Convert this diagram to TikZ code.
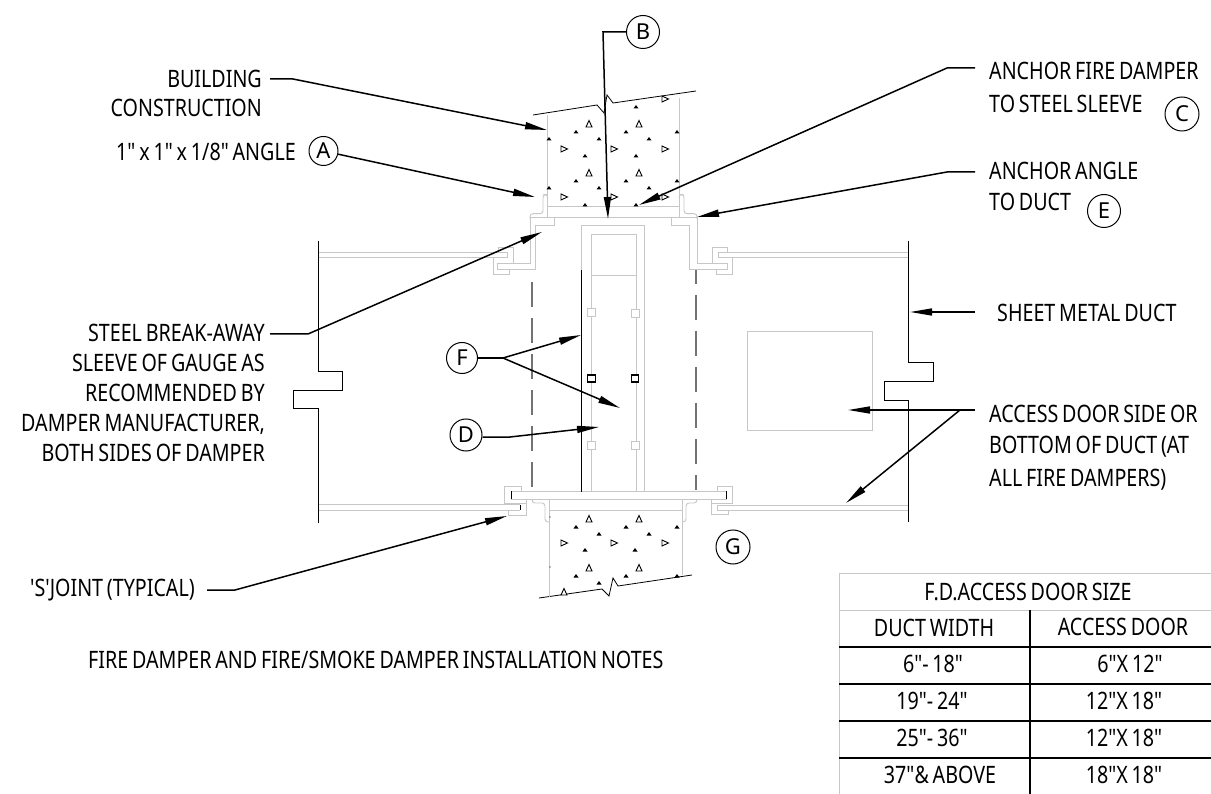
\documentclass[tikz,border=0pt]{standalone}
\usepackage{fontspec}
\newfontfamily\lblfont[FakeStretch=0.82,WordSpace=0.75]{Noto Sans}
\newfontfamily\tagfont{Noto Sans}
\usepackage{tikz}
\usetikzlibrary{arrows.meta}
\definecolor{wallgray}{gray}{0.78}
\tikzset{
  wall/.style={draw=wallgray,line width=0.9pt},
  duct/.style={draw=black,line width=1pt},
  dashline/.style={draw=black!55,line width=1.3pt,dash pattern=on 25pt off 11pt},
  leader/.style={draw=black,line width=1.5pt,-{Triangle[length=22pt,width=7pt]}},
  plainleader/.style={draw=black,line width=1.5pt},
  lbl/.style={font=\lblfont\fontsize{24}{30}\selectfont,inner sep=0pt},
  tag/.style={draw=black,line width=1pt,circle,minimum size=30pt,inner sep=0pt,font=\tagfont\fontsize{22}{24}\selectfont},
  grid/.style={draw=black,line width=1.2pt},
  aggr/.style={draw=black,line width=0.9pt,fill=white},
}
\begin{document}
\begin{tikzpicture}[x=1pt,y=-1pt]
  \useasboundingbox[fill=white] (0,0) rectangle (1211,794);
%
  % wall, top
  \draw [duct,line width=0.8pt] (533,115) -- (597,105) -- (604,113) -- (607,95) -- (613,103) -- (696,91);
  \draw [wall] (547.7,115) -- (547.7,217);
  \draw [wall] (679,98) -- (679,217);
  \draw [wall] (547.7,206) -- (679,206);
  \draw [wall] (530,217) -- (697,217);
%
  % wall, bottom
  \draw [duct,line width=0.8pt] (539,598) -- (602,589) -- (609,596) -- (613,578) -- (618,586) -- (692,575);
  \draw [wall] (549,499) -- (549,597);
  \draw [wall] (682,499) -- (682,575);
  \draw [wall] (549,510) -- (682,510);
  \draw [wall] (511,491) rectangle (726,499);
  \draw [duct,line width=0.8pt] (511,491) -- (511,499);
  \draw [duct,line width=0.8pt] (726,491) -- (726,499);
%
  % aggregate
  \foreach \x/\y in {589/124,639/124,589/173,639/173,589/519,639/519,589/568,639/568,564/592}
    \draw [aggr] (\x-3,\y+3) -- (\x+3,\y+3) -- (\x,\y-3.5) -- cycle;
  \foreach \x/\y in {665/99,564/149,614/149,665/149,564/197,614/197,665/197,564/543,614/543,665/543}
    \draw [aggr] (\x-3,\y-3) -- (\x-3,\y+3) -- (\x+3.5,\y) -- cycle;
  \foreach \x/\y in {576/132,626/132,677/132,549/139,599/139,649/139,636/107,585/156,636/156,576/181,626/181,677/181,549/188,599/188,649/188,585/205,636/205,576/527,626/527,677/527,599/534,649/534,585/550,635/550,576/576,626/576,677/576,599/583}
    \fill (\x-2.5,\y+1.5) -- (\x+2.5,\y+1.5) -- (\x,\y-2) -- cycle;
  \foreach \x/\y in {550/517,550/567}
    \fill (\x,\y) circle (0.7);
%
  % angles
  \draw [wall,rounded corners=3pt] (547.7,198) -- (547.7,194.5) -- (543,194.5) -- (543,213.7) -- (530,213.7) -- (530,219);
  \draw [wall,rounded corners=3pt] (679,198) -- (679,194.5) -- (684,194.5) -- (684,213.7) -- (697,213.7) -- (697,219);
  \draw [wall,rounded corners=3pt] (532,499) -- (532,503) -- (545,503) -- (545,522) -- (549,522);
  \draw [wall,rounded corners=3pt] (697,499) -- (697,503) -- (686,503) -- (686,522) -- (682,522);
%
  % sleeve and S joints
  \draw [wall] (530,217) -- (530,263) -- (497,263) -- (497,269) -- (535,269) -- (535,225) -- (554,225) -- (554,217);
  \draw [wall] (697,217) -- (697,263) -- (727,263) -- (727,269) -- (689,269) -- (689,225) -- (671,225) -- (671,217);
  \draw [wall] (319,252) -- (507,252) -- (507,257.5) -- (319,257.5);
  \draw [wall] (498,252) -- (498,247) -- (513,247) -- (513,263);
  \draw [wall] (507,257.5) -- (493,257.5) -- (493,274) -- (509,274) -- (509,269);
  \draw [wall] (908,252) -- (718,252) -- (718,257) -- (908,257);
  \draw [wall] (718,252) -- (727,252) -- (727,247) -- (712,247) -- (712,263);
  \draw [wall] (718,257) -- (732,257) -- (732,274) -- (716,274) -- (716,269);
%
  \draw [wall] (319,504.5) -- (520,504.5);
  \draw [wall] (319,510) -- (520,510);
  \draw [duct] (520,504.5) -- (520,510);
  \draw [wall] (521,491) -- (521,486) -- (504,486) -- (504,503) -- (526,503);
  \draw [wall] (526,499) -- (526,515) -- (508,515) -- (508,510);
  \draw [wall] (717,491) -- (717,486) -- (732,486) -- (732,503) -- (711,503);
  \draw [wall] (711,499) -- (711,514) -- (728,514) -- (728,510) -- (717,510) -- (717,505) -- (908,505);
  \draw [wall] (717,510) -- (908,510);
%
  % damper
  \draw [wall] (581,491) -- (581,225) -- (644,225) -- (644,491);
  \draw [wall] (591,491) -- (591,234) -- (636,234) -- (636,491);
  \draw [wall] (591,275) -- (636,275);
  \draw [duct] (581.5,270) -- (581.5,492);
  \foreach \x/\y in {591.5/312,635/313,591.5/445,635/445}
    \draw [wall,fill=white] (\x-4,\y-4) rectangle (\x+4,\y+4);
  \foreach \x/\y in {591.5/378.5,635/378.5}
    \draw [duct,line width=1.1pt,fill=white] (\x-3.8,\y-3.5) rectangle (\x+3.8,\y+3.5);
  \draw [dashline] (532,282) -- (532,492);
  \draw [dashline,dash phase=11pt] (696,270) -- (696,490);
%
  % duct
  \draw [duct] (318,241) -- (318,372) -- (342,372) -- (342,391) -- (293,391) -- (293,409) -- (318,409) -- (318,523);
  \draw [duct] (908,241) -- (908,363) -- (933,363) -- (933,382) -- (884,382) -- (884,401) -- (908,401) -- (908,522);
  \draw [wall] (747,331) rectangle (872,430);
%
  % labels
  \node [lbl,anchor=east] (building) at (262,79) {BUILDING};
  \node [lbl,anchor=east] (construction) at (262,108) {CONSTRUCTION};
  \node [lbl,anchor=east] (angle) at (296,152) {1" x 1" x 1/8" ANGLE};
  \node [lbl,anchor=east] (sleevea) at (265,333) {STEEL BREAK-AWAY};
  \node [lbl,anchor=east] (sleeveb) at (265,363) {SLEEVE OF GAUGE AS};
  \node [lbl,anchor=east] (sleevec) at (265,393) {RECOMMENDED BY};
  \node [lbl,anchor=east] (sleeved) at (265,424) {DAMPER MANUFACTURER,};
  \node [lbl,anchor=east] (sleevee) at (265,453) {BOTH SIDES OF DAMPER};
  \node [lbl,anchor=west] (sjoint) at (30,590) {'S'JOINT (TYPICAL)};
  \node [lbl,anchor=west] (title) at (88,660) {FIRE DAMPER AND FIRE/SMOKE DAMPER INSTALLATION NOTES};
  \node [lbl,anchor=west] (anchorfire) at (989,71) {ANCHOR FIRE DAMPER};
  \node [lbl,anchor=west] (steelsleeve) at (989,104) {TO STEEL SLEEVE};
  \node [lbl,anchor=west] (anchorangle) at (989,171) {ANCHOR ANGLE};
  \node [lbl,anchor=west] (toduct) at (989,202) {TO DUCT};
  \node [lbl,anchor=west] (sheet) at (997,313) {SHEET METAL DUCT};
  \node [lbl,anchor=west] (door) at (989,414) {ACCESS DOOR SIDE OR};
  \node [lbl,anchor=west] (doorb) at (989,447) {BOTTOM OF DUCT (AT};
  \node [lbl,anchor=west] (doorc) at (989,480) {ALL FIRE DAMPERS)};
%
  \node [tag,minimum size=29pt] (tagA) at (323.5,151) {A};
  \node [tag,minimum size=33pt] (tagB) at (643,32) {B};
  \node [tag,minimum size=34pt] (tagC) at (1182,114) {C};
  \node [tag,minimum size=33pt] (tagE) at (1104,211) {E};
  \node [tag,minimum size=31pt] (tagF) at (462,358) {F};
  \node [tag,minimum size=32pt] (tagD) at (466,435) {D};
  \node [tag,minimum size=34pt] (tagG) at (733,547) {G};
%
  % leaders
  \coordinate (bldg0) at (270,79);
  \coordinate (bldg1) at (293,79);
  \coordinate (bldgtip) at (547,130);
  \draw [leader] (bldg0) -- (bldg1) -- (bldgtip);
  \coordinate (atip) at (535,197);
  \draw [leader] (tagA) -- (atip);
  \coordinate (b1) at (603,32);
  \coordinate (btip) at (608,219);
  \draw [leader] (tagB) -- (b1) -- (btip);
  \coordinate (c0) at (975,68);
  \coordinate (c1) at (947,68);
  \coordinate (ctip) at (639,205);
  \draw [leader] (c0) -- (c1) -- (ctip);
  \coordinate (e0) at (975,172);
  \coordinate (e1) at (947,172);
  \coordinate (etip) at (697,217);
  \draw [leader] (e0) -- (e1) -- (etip);
  \coordinate (s0) at (270,334);
  \coordinate (s1) at (308,334);
  \coordinate (stip) at (542,232);
  \draw [leader] (s0) -- (s1) -- (stip);
  \coordinate (m0) at (975,312);
  \coordinate (mtip) at (910,312);
  \draw [leader] (m0) -- (mtip);
  \coordinate (d0) at (975,410);
  \coordinate (d1) at (960,410);
  \coordinate (dtip) at (848,410);
  \coordinate (dtipb) at (846,503);
  \draw [leader] (d0) -- (d1) -- (dtip);
  \draw [leader] (d1) -- (dtipb);
  \coordinate (f1) at (503,358);
  \coordinate (ftipa) at (581,335);
  \coordinate (ftipb) at (620,408);
  \draw [plainleader] (tagF) -- (f1);
  \draw [leader] (f1) -- (ftipa);
  \draw [leader] (f1) -- (ftipb);
  \coordinate (g1) at (510,437);
  \coordinate (gtip) at (599,427);
  \draw [leader] (tagD.east |- g1) -- (g1) -- (gtip);
  \coordinate (j0) at (207,590);
  \coordinate (j1) at (235,590);
  \coordinate (jtip) at (507,516);
  \draw [leader] (j0) -- (j1) -- (jtip);
%
  % table
  \draw [wall] (1211,573) -- (839,573) -- (839,794);
  \draw [wall] (839,610) -- (1211,610);
  \foreach \y in {647,684,721,758}
    \draw [grid] (839,\y) -- (1211,\y);
  \draw [grid] (1030,610) -- (1030,794);
  \node [lbl] (tabhead) at (1028,592) {F.D.ACCESS DOOR SIZE};
  \node [lbl] (colwidth) at (934,628) {DUCT WIDTH};
  \node [lbl] (coldoor) at (1123,627) {ACCESS DOOR};
  \node [lbl] (wa) at (933,664) {6"- 18"};
  \node [lbl] (da) at (1130,664) {6"X 12"};
  \node [lbl] (wb) at (932,701) {19"- 24"};
  \node [lbl] (db) at (1124,701) {12"X 18"};
  \node [lbl] (wc) at (932,738) {25"- 36"};
  \node [lbl] (dc) at (1124,738) {12"X 18"};
  \node [lbl] (wd) at (940,775) {37"\& ABOVE};
  \node [lbl] (dd) at (1124,775) {18"X 18"};
\end{tikzpicture}
\end{document}
